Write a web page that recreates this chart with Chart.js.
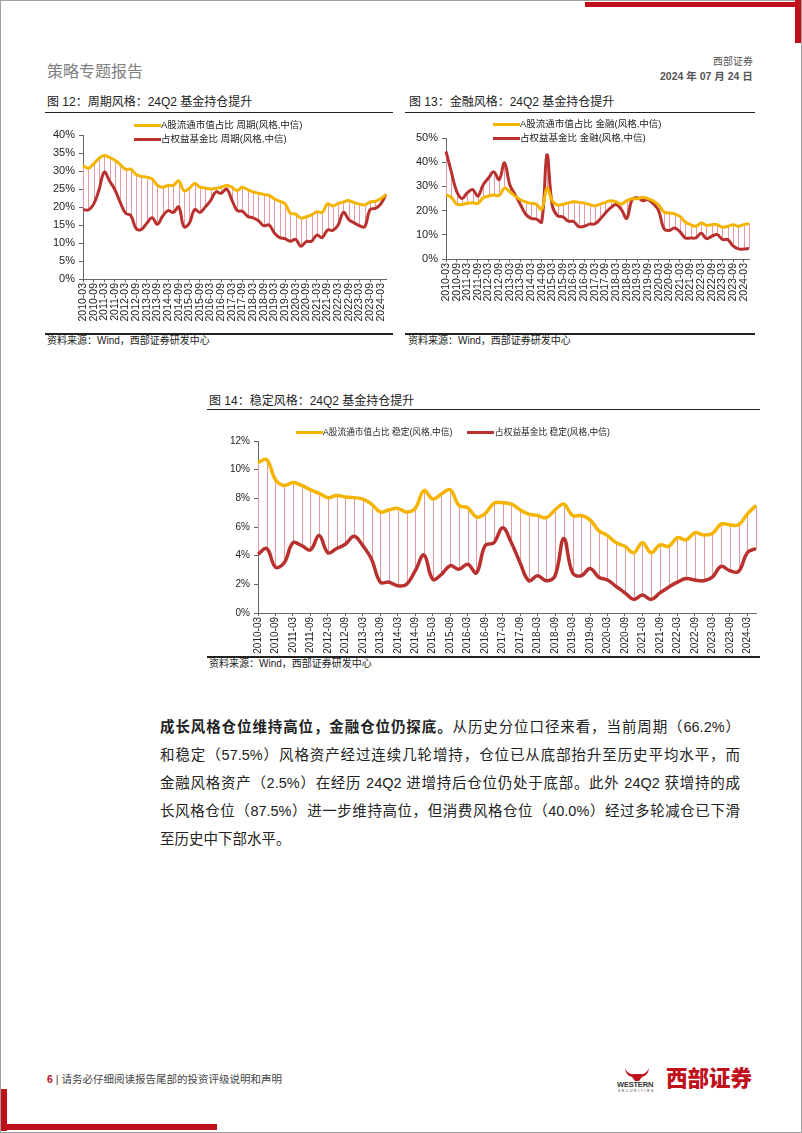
<!DOCTYPE html>
<html>
<head>
<meta charset="utf-8">
<script src="https://cdn.jsdelivr.net/npm/chart.js@4.4.1/dist/chart.umd.min.js"></script>
<style>
html,body{margin:0;padding:0;background:#fff;}
body{width:802px;height:1133px;position:relative;overflow:hidden;font-family:"Liberation Sans","Noto Sans CJK SC",sans-serif;color:#222;}
.frame{position:absolute;left:0;top:0;width:800px;height:1131px;border:1px solid #a0a0a0;}
.abs{position:absolute;white-space:nowrap;}
.red{position:absolute;background:#c0101c;}
.title{font-size:12px;line-height:14px;color:#222;}
.src{font-size:10px;line-height:12px;color:#222;}
.rule{position:absolute;height:1px;background:#222;}
.rule2{position:absolute;height:1.5px;background:#222;}
.lg{font-family:"Liberation Sans","Noto Sans CJK SC",sans-serif;font-size:9.5px;line-height:12px;color:#222;}
.sw{position:absolute;height:3px;}
canvas{position:absolute;}
.para div{width:580px;font-size:14.5px;line-height:28px;height:28px;text-align:justify;text-align-last:justify;white-space:normal;color:#222;}
.para div.last{text-align-last:left;}
</style>
</head>
<body>
<div class="frame"></div>
<div class="red" style="left:585px;top:2px;width:216px;height:5px;"></div>
<div class="red" style="left:795px;top:0px;width:6px;height:43px;"></div>
<div class="red" style="left:1px;top:1089px;width:6px;height:42px;"></div>
<div class="red" style="left:1px;top:1124px;width:216px;height:6px;"></div>

<!-- header -->
<div class="abs" style="left:47px;top:63px;font-size:16px;line-height:18px;color:#808080;">策略专题报告</div>
<div class="abs" style="left:713px;top:56px;font-size:10px;line-height:12px;color:#555;">西部证券</div>
<div class="abs" style="left:660px;top:70px;font-size:10.5px;line-height:12px;color:#555;font-weight:bold;">2024 年 07 月 24 日</div>

<!-- chart 12 -->
<div class="abs title" style="left:47px;top:95px;">图 12：周期风格：24Q2 基金持仓提升</div>
<div class="rule" style="left:45px;top:112px;width:348px;"></div>
<canvas id="c12" width="350" height="215" style="left:45px;top:115px;"></canvas>
<div class="sw" style="left:134px;top:124px;width:27px;background:#f4b400;"></div>
<div class="abs lg" style="left:161px;top:119px;">A股流通市值占比 周期(风格,中信)</div>
<div class="sw" style="left:134px;top:138px;width:27px;background:#b8312f;"></div>
<div class="abs lg" style="left:161px;top:133px;">占权益基金比 周期(风格,中信)</div>
<div class="rule2" style="left:45px;top:333px;width:348px;"></div>
<div class="abs src" style="left:47px;top:335px;">资料来源：Wind，西部证券研发中心</div>

<!-- chart 13 -->
<div class="abs title" style="left:409px;top:95px;">图 13：金融风格：24Q2 基金持仓提升</div>
<div class="rule" style="left:405px;top:112px;width:350px;"></div>
<canvas id="c13" width="355" height="215" style="left:405px;top:115px;"></canvas>
<div class="sw" style="left:493px;top:123px;width:27px;background:#f4b400;"></div>
<div class="abs lg" style="left:520px;top:118px;">A股流通市值占比 金融(风格,中信)</div>
<div class="sw" style="left:493px;top:137px;width:27px;background:#b8312f;"></div>
<div class="abs lg" style="left:520px;top:132px;">占权益基金比 金融(风格,中信)</div>
<div class="rule2" style="left:405px;top:333px;width:350px;"></div>
<div class="abs src" style="left:408px;top:335px;">资料来源：Wind，西部证券研发中心</div>

<!-- chart 14 -->
<div class="abs title" style="left:209px;top:394px;">图 14：稳定风格：24Q2 基金持仓提升</div>
<div class="rule" style="left:207px;top:409px;width:553px;"></div>
<canvas id="c14" width="560" height="243" style="left:207px;top:412px;"></canvas>
<div class="sw" style="left:296px;top:431px;width:27px;background:#f4b400;"></div>
<div class="abs lg" style="left:323px;top:426px;font-size:8.7px;">A股流通市值占比 稳定(风格,中信)</div>
<div class="sw" style="left:467px;top:431px;width:27px;background:#b8312f;"></div>
<div class="abs lg" style="left:495px;top:426px;font-size:8.7px;">占权益基金比 稳定(风格,中信)</div>
<div class="rule2" style="left:207px;top:656px;width:553px;"></div>
<div class="abs src" style="left:209px;top:658px;">资料来源：Wind，西部证券研发中心</div>

<!-- text -->
<div class="abs para" style="left:160px;top:713px;">
<div><b>成长风格仓位维持高位，金融仓位仍探底。</b>从历史分位口径来看，当前周期（66.2%）</div>
<div>和稳定（57.5%）风格资产经过连续几轮增持，仓位已从底部抬升至历史平均水平，而</div>
<div>金融风格资产（2.5%）在经历 24Q2 进增持后仓位仍处于底部。此外 24Q2 获增持的成</div>
<div>长风格仓位（87.5%）进一步维持高位，但消费风格仓位（40.0%）经过多轮减仓已下滑</div>
<div class="last">至历史中下部水平。</div>
</div>

<!-- footer -->
<div class="abs" style="left:47px;top:1073px;font-size:10.5px;line-height:13px;color:#444;"><span style="color:#c0101c;font-weight:bold;">6</span> | 请务必仔细阅读报告尾部的投资评级说明和声明</div>
<svg class="abs" style="left:622px;top:1066px;" width="30" height="16" viewBox="0 0 30 16">
<path d="M3 2 Q6 9 12 8 L18 8 Q24 9 27 2 Q26 10 20 11 L17 15 L13 15 L10 11 Q4 10 3 2 Z" fill="#c0101c"/>
</svg>
<div class="abs" style="left:617px;top:1081px;font-size:7.5px;line-height:8px;font-weight:bold;color:#333;letter-spacing:-0.2px;">WESTERN</div>
<div class="abs" style="left:618px;top:1089px;font-size:3.5px;line-height:4px;color:#333;letter-spacing:1.6px;">SECURITIES</div>
<div class="abs" style="left:666px;top:1068px;font-size:21.5px;line-height:23px;font-weight:900;color:#c0101c;letter-spacing:0px;">西部证券</div>

<script>
const quarters=["2010-03","2010-06","2010-09","2010-12","2011-03","2011-06","2011-09","2011-12",
"2012-03","2012-06","2012-09","2012-12","2013-03","2013-06","2013-09","2013-12",
"2014-03","2014-06","2014-09","2014-12","2015-03","2015-06","2015-09","2015-12",
"2016-03","2016-06","2016-09","2016-12","2017-03","2017-06","2017-09","2017-12",
"2018-03","2018-06","2018-09","2018-12","2019-03","2019-06","2019-09","2019-12",
"2020-03","2020-06","2020-09","2020-12","2021-03","2021-06","2021-09","2021-12",
"2022-03","2022-06","2022-09","2022-12","2023-03","2023-06","2023-09","2023-12",
"2024-03","2024-06"];

// 周期
const cycMkt=[31.5,30.8,32.0,33.5,34.3,33.8,33.0,31.8,30.5,30.5,29.0,28.5,28.3,27.8,26.0,25.5,
26.0,26.0,27.3,24.5,25.2,26.5,25.5,25.3,25.0,25.2,25.5,26.0,25.5,24.6,25.5,24.8,
24.2,23.8,23.5,23.2,22.3,21.6,20.9,18.3,18.0,16.9,17.3,17.8,18.7,18.5,20.9,20.3,
21.0,21.4,21.8,21.2,20.8,20.6,21.4,21.6,22.3,23.5];
const cycFund=[19.3,19.2,20.8,24.7,29.7,27.2,24.8,21.3,18.3,17.6,14.0,13.8,15.5,17.0,15.2,17.5,
19.0,18.5,20.0,14.5,15.5,19.3,18.5,20.0,21.8,24.2,23.8,25.0,22.0,19.0,18.8,17.4,
17.0,16.2,14.8,15.0,12.8,11.5,11.2,10.5,11.0,9.1,10.4,10.5,12.2,11.5,13.6,13.5,
15.0,18.5,16.5,15.6,14.8,14.5,19.3,19.6,20.8,23.5];

// 金融
const finMkt=[26.5,25.5,22.7,22.5,23.0,23.2,23.0,25.3,26.0,26.4,26.3,29.3,27.8,26.0,24.5,23.6,
23.0,22.6,20.5,29.3,24.0,22.3,22.6,23.2,23.7,23.4,23.1,22.5,22.0,22.7,23.4,24.1,
23.6,22.7,24.1,24.9,24.9,25.5,24.9,24.0,22.3,19.4,19.0,18.6,17.6,15.3,14.2,13.5,
14.9,13.9,14.2,14.2,13.1,13.5,14.2,13.5,14.2,14.7];
const finFund=[44.5,36.0,28.0,25.0,27.3,28.7,26.0,30.7,33.5,36.0,32.8,39.7,30.7,26.6,22.5,18.5,
16.8,16.5,15.3,43.0,22.0,17.8,17.4,15.6,15.5,13.4,13.5,14.4,14.5,16.5,19.0,21.2,
22.5,20.4,16.8,24.5,25.3,24.1,24.5,22.8,20.0,12.5,11.8,12.8,11.3,8.7,8.7,8.7,
10.6,8.4,9.4,10.1,8.1,8.0,5.4,4.2,4.1,4.3];

// 稳定
const stbMkt=[10.5,10.7,9.3,8.9,9.1,8.9,8.6,8.35,8.05,8.2,8.1,8.05,7.95,7.6,7.05,7.2,
7.3,7.05,7.3,8.55,7.95,8.3,8.6,7.5,7.35,6.7,6.95,7.65,7.7,7.6,7.2,6.9,
6.8,6.65,7.2,7.6,6.8,6.8,6.5,5.75,5.4,4.9,4.65,4.2,4.9,4.2,4.75,4.65,
5.25,5.1,5.6,5.45,5.55,6.2,6.15,6.15,6.9,7.5];
const stbFund=[4.1,4.5,3.2,3.5,4.9,4.7,4.4,5.4,4.2,4.5,4.8,5.35,4.7,3.75,2.15,2.15,
1.9,2.0,2.95,4.05,2.35,2.7,3.3,3.05,3.4,2.8,4.7,4.9,5.95,4.9,3.5,2.25,
2.6,2.25,2.6,5.2,2.8,2.6,3.1,2.5,2.3,1.85,1.4,0.95,1.25,0.95,1.4,1.8,
2.15,2.4,2.3,2.25,2.5,3.25,2.95,2.9,4.2,4.5];

const YELLOW="#f4b400";
const RED="#b8312f";
const AXIS="#666";

// 两条线之间的竖线
const dropLines={
  id:"dropLines",
  beforeDatasetsDraw(chart){
    const a=chart.getDatasetMeta(0).data;
    const b=chart.getDatasetMeta(1).data;
    const ctx=chart.ctx;
    ctx.save();
    ctx.strokeStyle="#e89aa3";
    ctx.lineWidth=1;
    ctx.beginPath();
    for(let i=0;i<a.length;i++){
      const x=Math.round(a[i].x)+0.5;
      ctx.moveTo(x,a[i].y);
      ctx.lineTo(x,b[i].y);
    }
    ctx.stroke();
    ctx.restore();
  }
};

function makeChart(id,mkt,fund,o){
  return new Chart(document.getElementById(id),{
    type:"line",
    data:{
      labels:quarters,
      datasets:[
        {data:mkt,borderColor:YELLOW,borderWidth:o.lw,pointRadius:0,tension:0.4},
        {data:fund,borderColor:RED,borderWidth:o.lw,pointRadius:0,tension:0.4}
      ]
    },
    options:{
      responsive:false,
      animation:false,
      devicePixelRatio:1,
      layout:{padding:{top:o.top,right:o.right,left:0,bottom:0}},
      plugins:{legend:{display:false},tooltip:{enabled:false}},
      scales:{
        x:{
          offset:false,
          border:{color:AXIS},
          grid:{drawOnChartArea:false,color:AXIS,tickLength:3},
          ticks:{autoSkip:false,minRotation:90,maxRotation:90,padding:1,color:"#222",
            font:{family:"Liberation Sans",size:o.xfs}},
          afterBuildTicks(axis){axis.ticks=axis.ticks.filter((t,i)=>i%2===0);},
          afterFit(axis){axis.height=o.xh;axis.paddingLeft=0;axis.paddingRight=0;}
        },
        y:{
          min:0,max:o.max,
          border:{color:AXIS},
          grid:{drawOnChartArea:false,color:AXIS,tickLength:4},
          ticks:{stepSize:o.step,padding:4,color:"#222",
            font:{family:"Liberation Sans",size:o.yfs},
            callback:v=>v+"%"},
          afterFit(axis){axis.width=o.yw;axis.paddingTop=0;axis.paddingBottom=0;}
        }
      }
    },
    plugins:[dropLines]
  });
}

makeChart("c12",cycMkt,cycFund,{max:40,step:5,top:20,right:9,xh:51,yw:38,lw:3,xfs:10.5,yfs:11});
makeChart("c13",finMkt,finFund,{max:50,step:5,top:23,right:11,xh:71,yw:41,lw:3,xfs:10.5,yfs:11});
makeChart("c14",stbMkt,stbFund,{max:12,step:2,top:29,right:11,xh:42,yw:51,lw:3.5,xfs:10,yfs:10});
</script>
</body>
</html>
